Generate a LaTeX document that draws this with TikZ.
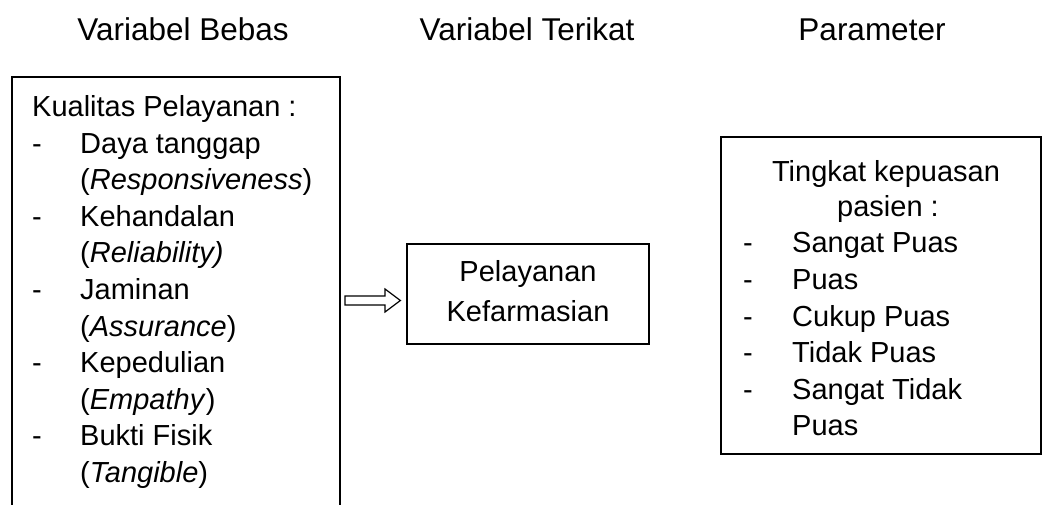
\documentclass[tikz,border=0pt]{standalone}
\usepackage{fontspec}
\setmainfont{Liberation Sans}
\usetikzlibrary{calc}
\begin{document}
\begin{tikzpicture}[x=1pt,y=-1pt,
  hdr/.style={font=\fontsize{31.5}{36}\selectfont, anchor=base, inner sep=0pt},
  txt/.style={font=\fontsize{29}{36}\selectfont, anchor=base west, inner sep=0pt},
  ctxt/.style={font=\fontsize{29}{36}\selectfont, anchor=base, inner sep=0pt},
  boxline/.style={draw, line width=1.3pt},
  hollowarrow/.style={draw, line width=1.2pt, fill=white, line join=miter}]
\useasboundingbox (0,0) rectangle (1042,505);
% headers
\node[hdr] (h1) at (183,41) {Variabel Bebas};
\node[hdr] (h2) at (527,41) {Variabel Terikat};
\node[hdr] (h3) at (872,41) {Parameter};
% left box (open at bottom)
\coordinate (lbTL) at (12,77);
\coordinate (lbTR) at (340,77);
\coordinate (lbR) at (340,300.5);
\draw[boxline] (12,510) -- (lbTL) -- (lbTR) -- (340,510);
\node[txt] (k0) at (32,117) {Kualitas Pelayanan :};
\foreach \i/\t in {1/{Daya tanggap},3/{Kehandalan},5/{Jaminan},7/{Kepedulian},9/{Bukti Fisik}}{
  \node[txt] (d\i) at (32,{117+36.5*\i}) {-};
  \node[txt] (k\i) at (80,{117+36.5*\i}) {\t};
}
\node[txt] (k2) at (80,{117+36.5*2}) {(\textit{Responsiveness})};
\node[txt] (k4) at (80,{117+36.5*4}) {(\textit{Reliability)}};
\node[txt] (k6) at (80,{117+36.5*6}) {(\textit{Assurance})};
\node[txt] (k8) at (80,{117+36.5*8}) {(\textit{Empathy})};
\node[txt] (k10) at (80,{117+36.5*10}) {(\textit{Tangible})};
% middle box
\node[boxline, minimum width=242pt, minimum height=100pt, inner sep=0pt] (mid) at (528,294) {};
\node[ctxt] (m1) at (528,282) {Pelayanan};
\node[ctxt] (m2) at (528,321) {Kefarmasian};
% hollow arrow from left box to middle box
\draw[hollowarrow] ($(lbR)+(5,-4.5)$) -- ($(lbR)+(45,-4.5)$) -- ($(lbR)+(45,-11.5)$)
  -- ($(mid.west)+(-6,6.5)$) -- ($(lbR)+(45,11.5)$) -- ($(lbR)+(45,4.5)$) -- ($(lbR)+(5,4.5)$) -- cycle;
% right box
\node[boxline, minimum width=320pt, minimum height=317pt, inner sep=0pt] (rb) at (881,295.5) {};
\node[ctxt] (r0) at (886,182) {Tingkat kepuasan};
\node[ctxt] (r1) at (888,217) {pasien :};
\foreach \i/\t in {0/{Sangat Puas},1/{Puas},2/{Cukup Puas},3/{Tidak Puas},4/{Sangat Tidak}}{
  \node[txt] (rd\i) at (743,{253+36.5*\i}) {-};
  \node[txt] (rt\i) at (792,{253+36.5*\i}) {\t};
}
\node[txt] (rt5) at (792,{253+36.5*5}) {Puas};
\end{tikzpicture}
\end{document}
